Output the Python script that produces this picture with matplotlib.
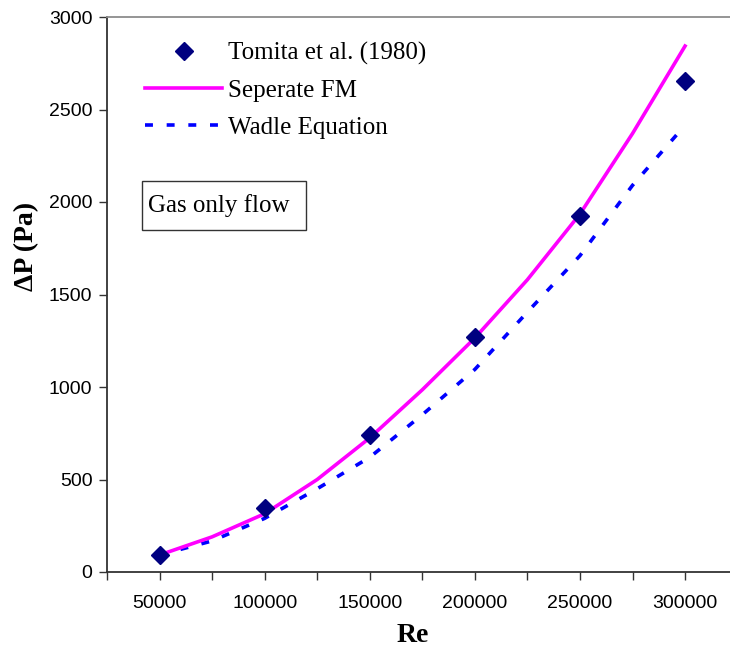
import matplotlib
matplotlib.use("Agg")
import matplotlib.pyplot as plt
from matplotlib.patches import Rectangle
from matplotlib.ticker import MultipleLocator, FixedLocator

# Reynolds numbers and pressure drop (Pa)
re_exp = [50000, 100000, 150000, 200000, 250000, 300000]
dp_tomita = [92, 345, 740, 1270, 1922, 2652]

re_model = [50000, 75000, 100000, 125000, 150000, 175000, 200000,
            225000, 250000, 275000, 300000]
dp_separate_fm = [92, 190, 315, 500, 725, 985, 1265, 1580, 1935, 2370, 2843]
dp_wadle = [92, 168, 290, 450, 620, 850, 1095, 1405, 1710, 2090, 2415]

x_tick_labels = ["50000", "100000", "150000", "200000", "250000", "300000"]

serif = ["Liberation Serif", "DejaVu Serif"]
sans = ["Liberation Sans", "DejaVu Sans"]

fig = plt.figure(figsize=(7.30, 6.54), dpi=100)
ax = fig.add_axes([107 / 730, 82 / 654, 630.6 / 730, 555 / 654])

ax.plot(re_exp, dp_tomita, linestyle="none", marker="D", markersize=9,
        color="#000080", label="Tomita et al. (1980)", zorder=4)
ax.plot(re_model, dp_separate_fm, color="#FF00FF", linewidth=2.6,
        label="Seperate FM", zorder=3)
ax.plot(re_model, dp_wadle, color="#0000FF", linewidth=2.6,
        linestyle=(0, (2.2, 3.8)), label="Wadle Equation", zorder=2)

ax.set_xlim(25000, 325000)
ax.set_ylim(0, 3000)

ax.xaxis.set_major_locator(FixedLocator([50000, 100000, 150000, 200000, 250000, 300000]))
ax.xaxis.set_minor_locator(FixedLocator([25000, 75000, 125000, 175000, 225000, 275000, 325000]))
ax.set_xticklabels(x_tick_labels)
ax.yaxis.set_major_locator(MultipleLocator(500))

ax.tick_params(axis="both", which="both", direction="out", length=5.5,
               width=1.0, color="#333333")
ax.tick_params(axis="x", which="major", pad=11)
ax.tick_params(axis="y", which="major", pad=5)
for lab in ax.get_xticklabels() + ax.get_yticklabels():
    lab.set_fontfamily(sans)
    lab.set_fontsize(14)

for side in ("left", "bottom"):
    ax.spines[side].set_color("#333333")
    ax.spines[side].set_linewidth(1.3)
ax.spines["top"].set_color("#8c8c8c")
ax.spines["top"].set_linewidth(1.3)
ax.spines["right"].set_color("#8c8c8c")

ax.set_xlabel("Re", fontfamily=serif, fontsize=20, fontweight="bold")
ax.xaxis.set_label_coords((413 - 107) / 630.6, (572 - 623) / 555)
ax.set_ylabel("\u0394P (Pa)", fontfamily=serif, fontsize=20, fontweight="bold")
ax.yaxis.set_label_coords((39 - 107) / 630.6, (572 - 246) / 555)

leg = ax.legend(loc="upper left", bbox_to_anchor=((145 - 107) / 630.6, (572 - 42) / 555),
                frameon=False, borderpad=0, borderaxespad=0,
                handlelength=3.08, handletextpad=0.24, labelspacing=0.57,
                prop={"family": serif, "size": 18})

# annotation box
bx0, bx1, by0, by1 = 142, 306, 181, 230
ax.add_patch(Rectangle(((bx0 - 107) / 630.6, (572 - by1) / 555),
                       (bx1 - bx0) / 630.6, (by1 - by0) / 555,
                       transform=ax.transAxes, facecolor="white",
                       edgecolor="#333333", linewidth=1.0, zorder=5))
ax.text((148 - 107) / 630.6, (572 - (by0 + by1) / 2) / 555, "Gas only flow",
        transform=ax.transAxes, ha="left", va="center",
        fontfamily=serif, fontsize=18, zorder=6)

fig.savefig("out.png", dpi=100)
